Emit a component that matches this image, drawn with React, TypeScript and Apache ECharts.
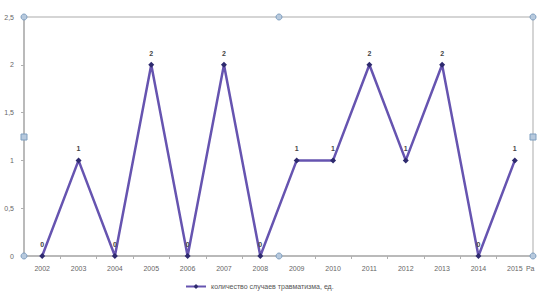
import React, { useEffect, useRef } from "react";
import * as echarts from "echarts";

const years = ["2002", "2003", "2004", "2005", "2006", "2007", "2008", "2009", "2010", "2011", "2012", "2013", "2014", "2015"];
const cases = [0, 1, 0, 2, 0, 2, 0, 1, 1, 2, 1, 2, 0, 1];
const seriesName = "количество случаев травматизма, ед.";

export default function App() {
  const ref = useRef<HTMLDivElement>(null);
  useEffect(() => {
    if (!ref.current) return;
    const chart = echarts.init(ref.current, null, { renderer: "svg" });
    const handleStroke = "#7f9fc0";
    const handleFill = "#b7c9dd";
    const circ = (x: number, y: number) => ({
      type: "circle",
      shape: { cx: x, cy: y, r: 3 },
      style: { fill: handleFill, stroke: handleStroke, lineWidth: 1 },
      z: 100,
    });
    const sq = (x: number, y: number) => ({
      type: "rect",
      shape: { x: x - 3, y: y - 3, width: 6, height: 6 },
      style: { fill: handleFill, stroke: handleStroke, lineWidth: 1 },
      z: 100,
    });
    chart.setOption({
      animation: false,
      backgroundColor: "#ffffff",
      textStyle: { fontFamily: "Liberation Sans, Arial, sans-serif" },
      grid: {
        left: 24,
        right: 5,
        top: 17,
        bottom: 40,
        show: true,
        borderColor: "#c8c8c8",
        borderWidth: 1.5,
      },
      legend: {
        show: true,
        bottom: 1,
        left: 180,
        itemWidth: 20,
        itemHeight: 6,
        itemGap: 4,
        textStyle: { fontSize: 7, color: "#555" },
        data: [seriesName],
      },
      xAxis: {
        type: "category",
        data: years,
        boundaryGap: true,
        axisLine: { lineStyle: { color: "#b0b0b0", width: 1.5 } },
        axisTick: { show: true, length: 3, lineStyle: { color: "#b0b0b0" } },
        axisLabel: { fontSize: 7, color: "#666", margin: 9 },
      },
      yAxis: {
        type: "value",
        min: 0,
        max: 2.5,
        interval: 0.5,
        axisLine: { show: true, lineStyle: { color: "#b0b0b0", width: 1.5 } },
        axisTick: { show: true, length: 3, lineStyle: { color: "#b0b0b0" } },
        splitLine: { show: false },
        axisLabel: {
          fontSize: 7,
          color: "#666",
          margin: 10,
          formatter: (v: number) => String(v).replace(".", ","),
        },
      },
      series: [
        {
          name: seriesName,
          type: "line",
          data: cases,
          symbol: "diamond",
          symbolSize: 6,
          lineStyle: { color: "#6654b0", width: 2.5 },
          itemStyle: { color: "#2e2a6e" },
          label: {
            show: true,
            position: "top",
            distance: 5,
            fontSize: 7,
            fontWeight: "bold",
            color: "#444",
          },
        },
      ],
      graphic: [
        circ(24, 17),
        sq(24, 137),
        circ(24, 256),
        circ(279, 17),
        circ(279, 256),
        circ(533, 17),
        sq(533, 137),
        circ(533, 256),
        {
          type: "text",
          x: 526,
          y: 265,
          style: { text: "Ра", fontSize: 7, fill: "#666" },
        },
      ],
    });
    return () => chart.dispose();
  }, []);
  return (
    <div
      ref={ref}
      style={{ position: "absolute", left: 0, top: 0, width: 538, height: 296 }}
    />
  );
}
